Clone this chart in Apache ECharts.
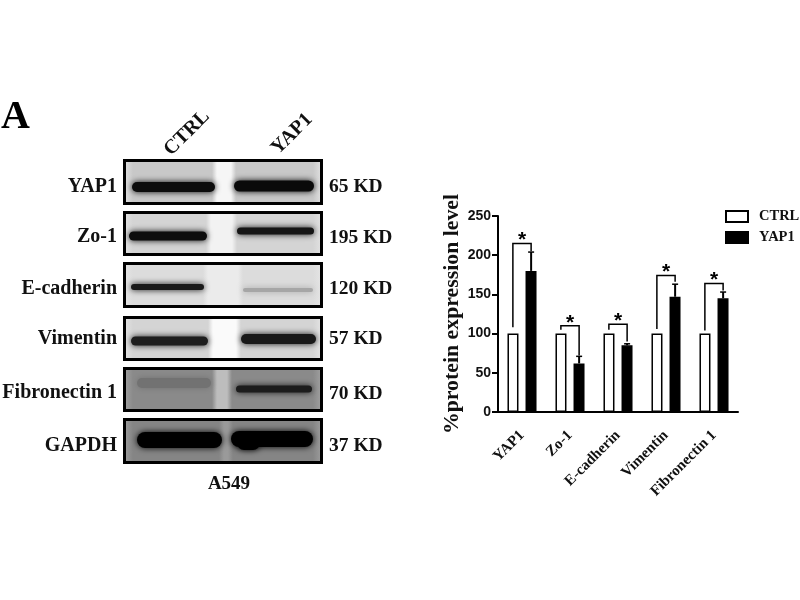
<!DOCTYPE html>
<html><head><meta charset="utf-8">
<style>html,body{margin:0;padding:0;background:#fff}#c{width:800px;height:600px}</style>
<script src="https://cdn.jsdelivr.net/npm/echarts@6/dist/echarts.min.js"></script>
</head><body><div id="c"></div>
<script>
const categories = ['YAP1','Zo-1','E-cadherin','Vimentin','Fibronectin 1'];
const ctrlValues = [100,100,100,100,100];
const yap1Values = [180,62,85,147,145];
const yap1ErrorTop = [204,71,87,163,153];
const bracketTop = [215,110,112,174,164];
const bracketLeftEnd = [108,105,105,106,104];
const bracketRightEnd = [205,72,90,166,155];
const blotProteins = ['YAP1','Zo-1','E-cadherin','Vimentin','Fibronectin 1','GAPDH'];
const blotWeights = ['65 KD','195 KD','120 KD','57 KD','70 KD','37 KD'];
const blotLanes = ['CTRL','YAP1'];
const cellLine = 'A549';
const panelLetter = 'A';

const SERIF = '"Liberation Serif","DejaVu Serif",serif';
const SANS = '"Liberation Sans",Arial,sans-serif';

// appearance of the western-blot panels (picture, not chart data)
const blotLook = [
 {y:159,h:46,lane:'#c8c8c8',edge:'#e4e4e4',gap:'#f6f6f6',gl:215,gr:233,ty:187,wy:187,
  bands:[[132,215,187,10,'#0c0c0c'],[234,314,186,11,'#0a0a0a']]},
 {y:211,h:45,lane:'#d4d4d4',edge:'#e4e4e4',gap:'#f2f2f2',gl:209,gr:234,ty:237,wy:238,
  bands:[[129,207,236,9,'#0d0d0d'],[237,314,231,7,'#151515']]},
 {y:262,h:46,lane:'#dcdcdc',edge:'#e6e6e6',gap:'#ebebeb',gl:206,gr:240,ty:289,wy:289,
  bands:[[131,204,287,6,'#1a1a1a'],[243,313,290,4,'#a6a6a6']]},
 {y:316,h:45,lane:'#d4d4d4',edge:'#e6e6e6',gap:'#fafafa',gl:211,gr:238,ty:339,wy:339,
  bands:[[131,208,341,9,'#1e1e1e'],[241,316,339,10,'#181818']]},
 {y:367,h:45,lane:'#8a8a8a',edge:'#a4a4a4',gap:'#bdbdbd',gl:215,gr:229,ty:393,wy:394,
  bands:[[137,211,383,10,'#727272'],[236,312,389,7,'#1c1c1c']]},
 {y:418,h:46,lane:'#858585',edge:'#a0a0a0',gap:'#9a9a9a',gl:222,gr:230,ty:446,wy:446,
  bands:[[137,222,440,16,'#000000'],[231,313,439,16,'#000000'],[237,260,443,14,'#000000']]}
];
const PX0 = 123, PX1 = 323;
const gfx = [];
blotLook.forEach((p,i)=>{
  const w = PX1-PX0;
  const f = v => (v-PX0)/w;
  gfx.push({type:'rect',shape:{x:PX0+1.5,y:p.y+1.5,width:w-3,height:p.h-3},
    style:{stroke:'#000',lineWidth:3,fill:{type:'linear',x:0,y:0,x2:1,y2:0,colorStops:[
      {offset:0,color:p.edge},{offset:.05,color:p.lane},{offset:f(p.gl-3),color:p.lane},
      {offset:f(p.gl+2),color:p.gap},{offset:f(p.gr-2),color:p.gap},{offset:f(p.gr+3),color:p.lane},
      {offset:.95,color:p.lane},{offset:1,color:p.edge}]}},z:1});
  p.bands.forEach(b=>{
    gfx.push({type:'rect',shape:{x:b[0],y:b[2]-b[3]/2,width:b[1]-b[0],height:b[3],r:b[3]/2},
      style:{fill:b[4],shadowBlur:6,shadowColor:b[4]},z:2});
  });
  gfx.push({type:'text',x:117,y:p.ty,style:{text:blotProteins[i],align:'right',verticalAlign:'middle',
    font:'bold 20px '+SERIF,fill:'#111'},z:3});
  gfx.push({type:'text',x:329,y:p.wy,style:{text:blotWeights[i],align:'left',verticalAlign:'middle',
    font:'bold 19.5px '+SERIF,fill:'#111'},z:3});
});
gfx.push({type:'text',x:187,y:133,rotation:Math.PI/4,style:{text:blotLanes[0],align:'center',verticalAlign:'middle',font:'bold 20px '+SERIF,fill:'#111'},z:3});
gfx.push({type:'text',x:292,y:134,rotation:Math.PI/4,style:{text:blotLanes[1],align:'center',verticalAlign:'middle',font:'bold 20px '+SERIF,fill:'#111'},z:3});
gfx.push({type:'text',x:229,y:484,style:{text:cellLine,align:'center',verticalAlign:'middle',font:'bold 19px '+SERIF,fill:'#111'},z:3});
gfx.push({type:'text',x:1,y:118,style:{text:panelLetter,align:'left',verticalAlign:'middle',font:'bold 40px '+SERIF,fill:'#000'},z:3});

const OFF = 0.19; // bar centre offset as a share of the category band
const chart = echarts.init(document.getElementById('c'),null,{renderer:'canvas'});
chart.setOption({
  animation:false,
  backgroundColor:'#fff',
  graphic:{elements:gfx},
  legend:{data:[{name:'CTRL'},{name:'YAP1'}],orient:'vertical',left:725,top:209,padding:0,itemWidth:22,itemHeight:11,itemGap:6,
    icon:'rect',textStyle:{fontFamily:SERIF,fontWeight:'bold',fontSize:14.5,color:'#111',padding:[0,0,0,6]}},
  grid:{left:498,right:62,top:216,bottom:188},
  xAxis:{type:'category',data:categories,
    axisLine:{lineStyle:{color:'#000',width:2}},
    axisTick:{alignWithLabel:true,length:6,lineStyle:{color:'#000',width:2}},
    axisLabel:{rotate:45,interval:0,margin:21,fontFamily:SERIF,fontWeight:'bold',fontSize:15,color:'#111'}},
  yAxis:{type:'value',min:0,max:250,interval:50,
    name:'%protein expression level',nameLocation:'middle',nameGap:33,
    nameTextStyle:{fontFamily:SERIF,fontWeight:'bold',fontSize:21.8,color:'#111'},
    splitLine:{show:false},
    axisLine:{show:true,lineStyle:{color:'#000',width:2}},
    axisTick:{show:true,length:6,lineStyle:{color:'#000',width:2}},
    axisLabel:{margin:7,fontFamily:SANS,fontWeight:'bold',fontSize:14,color:'#111'}},
  series:[
    {name:'CTRL',type:'bar',data:ctrlValues,barWidth:11,barGap:'64%',
      itemStyle:{color:'#fff',borderColor:'#000',borderWidth:1.5}},
    {name:'YAP1',type:'bar',data:yap1Values,barWidth:11,
      itemStyle:{color:'#000',borderColor:'#000',borderWidth:1.5}},
    {name:'err',type:'custom',data:categories.map((c,i)=>[i,yap1Values[i],yap1ErrorTop[i]]),
      encode:{x:0,y:[1,2]},z:3,
      renderItem(params,api){
        const band = api.size([1,0])[0];
        const a = api.coord([api.value(0),api.value(1)]);
        const b = api.coord([api.value(0),api.value(2)]);
        const x = a[0]+band*OFF;
        return {type:'group',children:[
          {type:'line',shape:{x1:x,y1:a[1],x2:x,y2:b[1]},style:{stroke:'#000',lineWidth:2}},
          {type:'line',shape:{x1:x-3,y1:b[1],x2:x+3,y2:b[1]},style:{stroke:'#000',lineWidth:1.5}}]};
      }},
    {name:'sig',type:'custom',
      data:categories.map((c,i)=>[i,bracketTop[i],bracketLeftEnd[i],bracketRightEnd[i]]),
      encode:{x:0,y:1},z:4,
      renderItem(params,api){
        const band = api.size([1,0])[0];
        const i = api.value(0);
        const top = api.coord([i,api.value(1)]);
        const l = api.coord([i,api.value(2)]);
        const r = api.coord([i,api.value(3)]);
        const xl = top[0]-band*OFF, xr = top[0]+band*OFF;
        return {type:'group',children:[
          {type:'polyline',shape:{points:[[xl,l[1]],[xl,top[1]],[xr,top[1]],[xr,r[1]]]},
            style:{stroke:'#000',lineWidth:1.5,fill:null}},
          {type:'text',x:top[0],y:top[1]-3,style:{text:'*',align:'center',verticalAlign:'middle',
            font:'bold 21px '+SANS,fill:'#000'}}]};
      }}
  ]
});
</script></body></html>
